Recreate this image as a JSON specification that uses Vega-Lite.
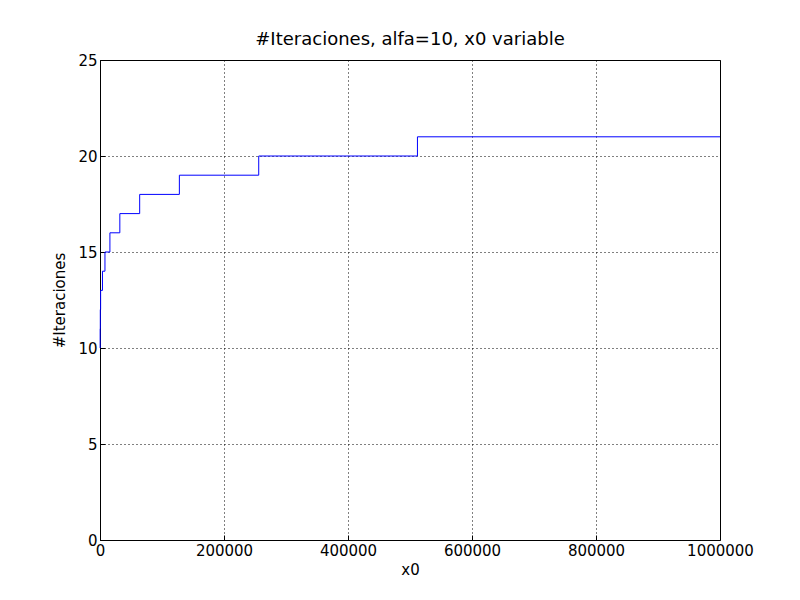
{
"$schema":"https://vega.github.io/schema/vega-lite/v6.json",
"width":620,"height":480,
"autosize":{"type":"none"},
"padding":{"left":100,"top":60,"right":80,"bottom":60},
"background":"white",
"title":{"text":"#Iteraciones, alfa=10, x0 variable","fontSize":18,"fontWeight":"normal","font":"DejaVu Sans","color":"black","offset":4},
"config":{"view":{"stroke":"black","strokeWidth":1},
"axis":{"labelFont":"DejaVu Sans","titleFont":"DejaVu Sans","labelFontSize":15,"titleFontSize":15,"titleFontWeight":"normal","labelColor":"black","titleColor":"black","gridColor":"black","gridDash":[1,3],"gridOpacity":1,"domain":false,"tickColor":"black","tickSize":-5,"labelPadding":8,"labelFlush":false,"labelOverlap":false,"labelBound":false}},
"data":{"values":[
{"x":0,"y":10},{"x":250,"y":11},{"x":500,"y":12},{"x":1000,"y":13},{"x":4000,"y":14},{"x":8000,"y":15},{"x":16000,"y":16},{"x":32000,"y":17},{"x":64000,"y":18},{"x":128000,"y":19},{"x":256000,"y":20},{"x":512000,"y":21},{"x":1000000,"y":21}]},
"mark":{"type":"line","interpolate":"step-after","color":"blue","strokeWidth":1},
"encoding":{
"x":{"field":"x","type":"quantitative","title":"x0","scale":{"domain":[0,1000000],"nice":false},"axis":{"values":[0,200000,400000,600000,800000,1000000],"format":"d","titlePadding":4}},
"y":{"field":"y","type":"quantitative","title":"#Iteraciones","scale":{"domain":[0,25],"nice":false},"axis":{"values":[0,5,10,15,20,25],"titlePadding":10}}}
}
